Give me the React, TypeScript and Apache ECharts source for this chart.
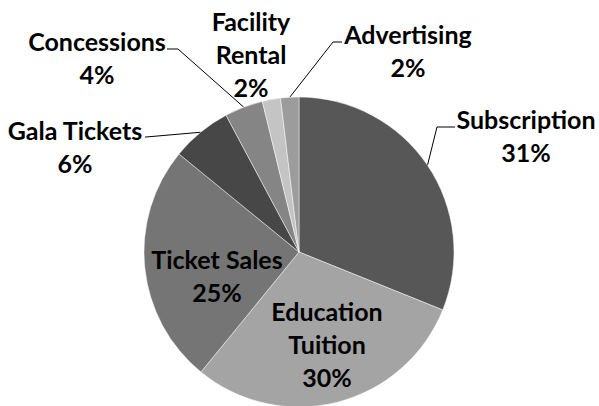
import React, { useEffect, useRef } from 'react';
import * as echarts from 'echarts';

const categories = ['Subscription', 'Education Tuition', 'Ticket Sales', 'Gala Tickets', 'Concessions', 'Facility Rental', 'Advertising'];
const shares = [31.1, 29.8, 25.0, 6.3, 4.0, 1.9, 1.9];
const sliceColors = ['#575757', '#a4a4a4', '#757575', '#474747', '#858585', '#c4c4c4', '#9c9c9c'];
const insideLabels = ['Education Tuition', 'Ticket Sales'];
const wrappedLabels = ['Education Tuition', 'Facility Rental'];
const noLeader = ['Facility Rental'];

// label block centres and leader-line elbows (layout only)
const labelAnchors: { x: number; y: number; line?: number[][] }[] = [
  { x: 526, y: 135, line: [[437, 127], [455, 127]] },
  { x: 327, y: 344 },
  { x: 217, y: 275 },
  { x: 75, y: 146, line: [[146, 137], [145, 137]] },
  { x: 97, y: 57, line: [[178, 49], [167, 49]] },
  { x: 251, y: 54 },
  { x: 408, y: 50, line: [[333, 42], [342, 42]] },
];

const CX = 299;
const CY = 252;
const R = 155;

export default function App() {
  const ref = useRef<HTMLDivElement>(null);
  useEffect(() => {
    if (!ref.current) return;
    const chart = echarts.init(ref.current, null, { renderer: 'svg' });
    const total = shares.reduce((a, b) => a + b, 0);
    const edgePoint = (idx: number) => {
      let cum = 0;
      for (let i = 0; i < idx; i++) cum += shares[i];
      const mid = ((cum + shares[idx] / 2) / total) * Math.PI * 2;
      return [CX + R * Math.sin(mid), CY - R * Math.cos(mid)];
    };
    chart.setOption({
      animation: false,
      backgroundColor: '#ffffff',
      series: [
        {
          type: 'pie',
          center: [CX, CY],
          radius: R,
          startAngle: 90,
          clockwise: true,
          avoidLabelOverlap: false,
          itemStyle: { borderColor: 'rgba(255,255,255,0.6)', borderWidth: 0.8 },
          label: {
            show: true,
            position: 'outside',
            color: '#000',
            fontFamily: 'Lato',
            fontWeight: 'bold',
            fontSize: 25,
            lineHeight: 33,
            align: 'center',
            overflow: 'none',
            formatter: (p: any) => {
              const name = wrappedLabels.includes(p.name) ? p.name.replace(' ', '\n') : p.name;
              return name + '\n' + Math.round(p.percent) + '%';
            },
          },
          labelLine: { show: true, length: 20, length2: 10, lineStyle: { color: '#000', width: 1 } },
          labelLayout: (params: any) => {
            const a = labelAnchors[params.dataIndex];
            const res: any = { x: a.x, y: a.y, align: 'center', verticalAlign: 'middle' };
            if (a.line) {
              const start = params.labelLinePoints && params.labelLinePoints[0]
                ? params.labelLinePoints[0]
                : edgePoint(params.dataIndex);
              res.labelLinePoints = [start, a.line[0], a.line[1]];
            }
            return res;
          },
          data: categories.map((name, i) => ({
            name,
            value: shares[i],
            itemStyle: { color: sliceColors[i] },
            label: insideLabels.includes(name) ? { position: 'inside' } : undefined,
            labelLine: insideLabels.includes(name) || noLeader.includes(name) ? { show: false } : undefined,
          })),
        },
      ],
    });
    return () => chart.dispose();
  }, []);
  return <div ref={ref} style={{ position: 'fixed', left: 0, top: 0, width: 599, height: 406 }} />;
}
